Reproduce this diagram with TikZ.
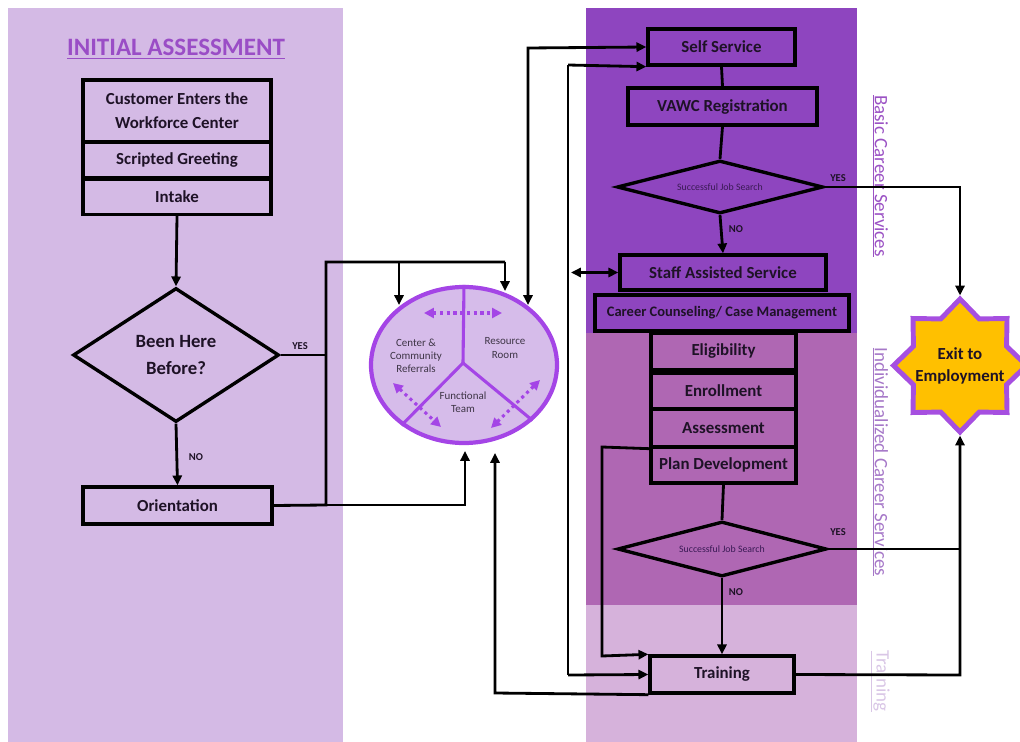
\documentclass[tikz,border=0pt]{standalone}
\usepackage{fontspec}
\setmainfont{Carlito}
\usetikzlibrary{shapes.geometric,arrows.meta}
\definecolor{lavband}{HTML}{D4BAE5}
\definecolor{darkband}{HTML}{8E45BF}
\definecolor{midband}{HTML}{AF67B3}
\definecolor{lightband}{HTML}{D6B2DB}
\definecolor{titlecol}{HTML}{9A4DC6}
\definecolor{basiccol}{HTML}{9B52C4}
\definecolor{indivcol}{HTML}{A678C8}
\definecolor{traincol}{HTML}{D9C6E6}
\definecolor{hubfill}{HTML}{D6BCEA}
\definecolor{hubline}{HTML}{A445E6}
\definecolor{hubtext}{HTML}{3E3546}
\definecolor{exitfill}{HTML}{FFC000}
\definecolor{exitline}{HTML}{A64FE0}
\definecolor{txt}{HTML}{1E1226}
\definecolor{smalltxt}{HTML}{3A1A55}
\begin{document}
\begin{tikzpicture}[x=0.025cm,y=-0.025cm,
  wh/.style 2 args={minimum width=#1*0.025cm, minimum height=#2*0.025cm},
  box/.style={draw=black, line width=2.4pt, inner sep=0pt, align=center, text=txt,
    font=\bfseries\fontsize{12}{17}\selectfont},
  decision/.style={diamond, draw=black, line width=2.4pt, inner sep=0pt, align=center, text=txt},
  conn/.style={draw=black, line width=2pt},
  arr/.style={conn, -{Triangle[length=7pt,width=6.5pt]}},
  darr/.style={conn, {Triangle[length=7pt,width=6.5pt]}-{Triangle[length=7pt,width=6.5pt]}},
  yn/.style={font=\bfseries\fontsize{7.5}{9}\selectfont, text=txt, inner sep=0pt},
  hubtxt/.style={font=\fontsize{7.8}{9.3}\selectfont, text=hubtext, align=center, inner sep=0pt},
  dotarr/.style={draw=hubline, line width=2.2pt, dash pattern=on 2.2pt off 2.6pt,
    {Triangle[length=7pt,width=7pt]}-{Triangle[length=7pt,width=7pt]}},
  sidelab/.style={rotate=-90, font=\fontsize{13.5}{16}\selectfont, inner sep=0pt}
]
\useasboundingbox (0,0) rectangle (1020,742);
% background bands
\fill[lavband] (8,8) rectangle (343,742);
\fill[darkband] (586,8) rectangle (857,333);
\fill[midband] (586,333) rectangle (857,605);
\fill[lightband] (586,605) rectangle (857,742);

% title
\node[font=\bfseries\fontsize{17.8}{20}\selectfont, text=titlecol] (title) at (176,49) {\underline{INITIAL ASSESSMENT}};

% left column
\node[box, wh={188}{62}] (cust) at (177,111) {Customer Enters the\\Workforce Center};
\node[box, wh={188}{36}] (greet) at (177,160) {Scripted Greeting};
\node[box, wh={188}{35}] (intake) at (177,197) {Intake};
\node[decision, shape aspect=1.54, wh={206}{134}, font=\bfseries\fontsize{13.3}{18.5}\selectfont] (been) at (176,355) {Been Here\\Before?};
\node[box, wh={189}{37}] (orient) at (177.5,505.5) {Orientation};

% hub
\node[ellipse, draw=hubline, line width=3pt, fill=hubfill, wh={186}{156}, inner sep=0pt] (hub) at (464,365) {};
\draw[hubline, line width=2.2pt] (hub.north) -- (463,363) coordinate (hc);
\draw[hubline, line width=2.2pt] (hc) -- (hub.224);
\draw[hubline, line width=2.2pt] (hc) -- (hub.321);
\node[hubtxt] (t1) at (416,356) {Center \&\\Community\\Referrals};
\node[hubtxt] (t2) at (505,348) {Resource\\Room};
\node[hubtxt] (t3) at (463,402) {Functional\\Team};
\coordinate (da1) at (424,313); \coordinate (da2) at (502,313);
\coordinate (db1) at (393,383); \coordinate (db2) at (441,427);
\coordinate (dc1) at (540,380); \coordinate (dc2) at (491,428);
\draw[dotarr] (da1) -- (da2);
\draw[dotarr] (db1) -- (db2);
\draw[dotarr] (dc1) -- (dc2);

% right column
\node[box, wh={147}{36}] (self) at (721.5,47) {Self Service};
\node[box, wh={189}{37}] (vawc) at (722.5,106.5) {VAWC Registration};
\node[decision, shape aspect=3.9, wh={206}{53}, font=\fontsize{7}{8}\selectfont, text=smalltxt] (d1) at (720,187) {Successful Job Search};
\node[box, wh={206}{35}] (staff) at (723,272.5) {Staff Assisted Service};
\node[box, wh={254}{36}, font=\bfseries\fontsize{10.3}{12}\selectfont] (career) at (722,313) {Career Counseling/ Case Management};
\node[box, wh={145}{37}] (elig) at (723.5,351.5) {Eligibility};
\node[box, wh={145}{36}] (enroll) at (723.5,391) {Enrollment};
\node[box, wh={145}{38}] (assess) at (723.5,428) {Assessment};
\node[box, wh={145}{36}] (plan) at (723.5,465) {Plan Development};
\node[decision, shape aspect=3.8, wh={209}{55}, font=\fontsize{7}{8}\selectfont, text=smalltxt] (d2) at (722,549) {Successful Job Search};
\node[box, wh={144}{37}] (train) at (722,674.5) {Training};

% exit star
\node[star, star points=8, star point ratio=1.32, draw=exitline, fill=exitfill, line width=3.5pt,
  minimum size=133*0.025cm, inner sep=0pt] (exit) at (960,365.5) {};
\node[font=\bfseries\fontsize{12}{15.5}\selectfont, text=txt, align=center] (exittxt) at (960,366) {Exit to\\Employment};

% side labels
\node[sidelab, text=basiccol] (lb) at (880,176) {\underline{Basic Career Services}};
\node[sidelab, text=indivcol] (li) at (880,462) {\underline{Individualized Career Services}};
\node[sidelab, text=traincol] (lt) at (880,681) {\underline{Training}};

% left connectors
\draw[arr] (intake.south) -- (been.north);
\draw[arr] (been.south) -- (orient.north);
\node[yn] (no0) at (196,457) {NO};
\coordinate (jy) at (326,355);
\coordinate (trunkTop) at (326,262);
\coordinate (trunkBot) at (326,505);
\draw[conn] (been.east) -- (jy);
\node[yn] (yes0) at (300,346) {YES};
\coordinate (hA) at (505,291);
\coordinate (hB) at (399,305);
\coordinate (hC) at (465,451);
\draw[conn] (orient.east) -- (trunkBot) -- (trunkTop) -- (hA |- trunkTop);
\draw[arr] (hA |- trunkTop) -- (hA);
\draw[arr] (hB |- trunkTop) -- (hB);
\draw[arr] (trunkBot) -| (hC);

% self service <-> hub
\coordinate (hD) at (528,305);
\draw[darr] (hD) -- (528,48) -- (self.west);

% x=568 line
\coordinate (v1top) at (568,65);
\coordinate (v1bot) at (568,675);
\draw[arr] (v1top) -- (self.south west);
\draw[conn] (v1top) -- (v1bot);
\draw[arr] (v1bot) -- (train.west);
\draw[darr] (571,272.5) -- (staff.west);

% x=602 line
\draw[arr] (assess.south west) -- (602,447) -- (602,656) -- (train.north west);

% training back to hub
\coordinate (hE) at (495,453);
\draw[arr] (train.south west) -- (495,693) -- (hE);

% right flow
\draw[conn] (self.south) -- (vawc.north);
\draw[conn] (vawc.south) -- (d1.north);
\draw[arr] (d1.south) -- (staff.north);
\node[yn] (no1) at (736,229) {NO};
\draw[conn] (plan.south) -- (d2.north);
\draw[arr] (d2.south) -- (train.north);
\node[yn] (no2) at (736,592) {NO};

% exits
\draw[arr] (d1.east) -- (960,187) -- (exit.north);
\node[yn] (yes1) at (838,178) {YES};
\draw[arr] (train.east) -- (960,675) -- (exit.south);
\draw[conn] (d2.east) -- (960,549);
\node[yn] (yes2) at (838,532) {YES};
\end{tikzpicture}
\end{document}
